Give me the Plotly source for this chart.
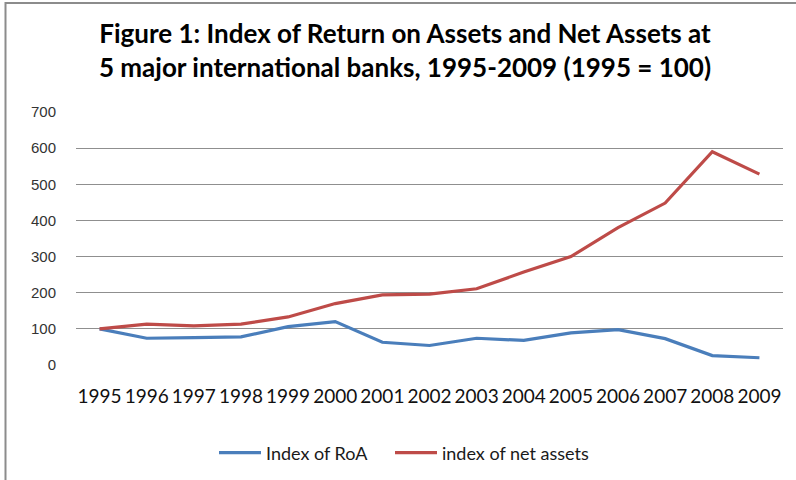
import plotly.graph_objects as go

years = [str(y) for y in range(1995, 2010)]
roa_index = [100, 74, 76, 78, 106, 120, 63, 54, 74, 68, 89, 98, 73, 26, 20]
net_assets_index = [100, 113, 108, 113, 133, 170, 194, 196, 211, 257, 300, 380, 448, 590, 528]
y_ticks = [0, 100, 200, 300, 400, 500, 600, 700]

title_text = ("Figure 1: Index of Return on Assets and Net Assets at<br>"
              "5 major international banks, 1995-2009 (1995 = 100)")

fig = go.Figure()
fig.add_trace(go.Scatter(x=years, y=roa_index, mode="lines", name="Index of RoA",
                         line=dict(color="#4A7EBB", width=3.2), legend="legend"))
fig.add_trace(go.Scatter(x=years, y=net_assets_index, mode="lines", name="index of net assets",
                         line=dict(color="#BE4B48", width=3.2), legend="legend2"))

L, R, T, B = 76, 13, 112, 115
W, H = 796, 480
pw, ph = W - L - R, H - T - B

legend_common = dict(orientation="h", xanchor="left", yanchor="middle", xref="container", yref="container",
                     y=1 - 453 / H, font=dict(family="Lato", size=18, color="#1a1a1a"),
                     itemwidth=42, bgcolor="rgba(0,0,0,0)")

fig.update_layout(
    width=W, height=H,
    margin=dict(l=L, r=R, t=T, b=B, autoexpand=False),
    paper_bgcolor="white", plot_bgcolor="white",
    title=dict(text=title_text, x=405 / W, xanchor="center", xref="container",
               y=1 - 43 / H, yanchor="top",
               font=dict(family="Lato", size=26, color="#000000", weight="bold")),
    showlegend=True,
    legend=dict(legend_common, x=214 / W),
    legend2=dict(legend_common, x=390 / W),
    xaxis=dict(type="category", range=[-0.5, len(years) - 0.5], showgrid=False, zeroline=False,
               showline=False, ticks="", tickfont=dict(family="Lato", size=19, color="#111111"),
               ticklabelstandoff=18, fixedrange=True),
    yaxis=dict(range=[0, 700], tickvals=y_ticks, showgrid=True, gridcolor="#8f8f8f", gridwidth=1,
               zeroline=False, showline=False, ticks="",
               tickfont=dict(family="Liberation Sans", size=15, color="#333333"),
               ticklabelstandoff=19, fixedrange=True),
    shapes=[dict(type="rect", xref="paper", yref="paper",
                 x0=(5.5 - L) / pw, x1=(W + 20 - L) / pw,
                 y0=-(H + 20 - (H - B)) / ph, y1=((H - B) - 3) / ph,
                 line=dict(color="#8c8c8c", width=2), layer="below")],
)

fig.write_html("out.html")
